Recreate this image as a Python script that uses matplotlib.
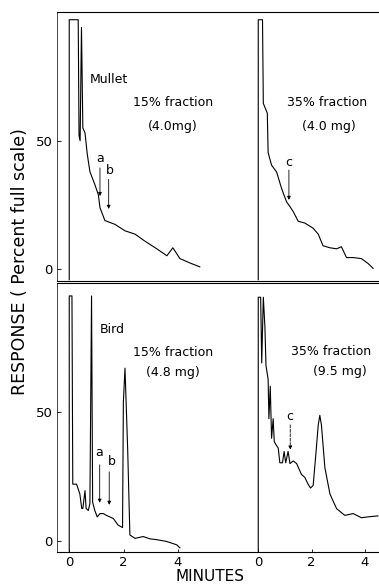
import matplotlib
matplotlib.use("Agg")
import matplotlib.pyplot as plt
import numpy as np

# retention time (min) and response (% full scale)
mullet15_t = [0, 0, 0.33, 0.36, 0.40, 0.45, 0.50, 0.58, 0.66, 0.76, 0.94, 1.07, 1.13,
              1.31, 1.68, 2.05, 2.42, 2.78, 3.22, 3.59, 3.81, 4.07, 4.44, 4.80]
mullet15_r = [-4, 97, 97, 52, 50, 94, 55, 53, 45, 38, 33, 29, 24,
              19, 17.5, 15, 13.7, 11, 8, 5.3, 8.4, 4.2, 2.5, 1]

mullet35_t = [0, 0, 0.16, 0.19, 0.34, 0.37, 0.50, 0.69, 0.88, 1.06, 1.19, 1.31, 1.50,
              1.75, 2.06, 2.25, 2.43, 2.69, 2.94, 3.12, 3.31, 3.56, 3.87, 4.12, 4.31]
mullet35_r = [-4, 97, 97, 64.5, 60.7, 45.4, 40.5, 37.8, 31.3, 26.3, 24.4, 22.5, 18.7,
              18, 16, 13.7, 9.2, 8.4, 8, 8.8, 4.6, 4.6, 4.2, 2.3, 0.4]

bird15_t = [0, 0, 0.10, 0.13, 0.27, 0.39, 0.46, 0.50, 0.58, 0.62, 0.70, 0.76, 0.82, 0.86,
            0.94, 1.03, 1.13, 1.25, 1.37, 1.62, 1.80, 1.96, 1.99, 2.05, 2.15, 2.23, 2.42,
            2.72, 2.97, 3.21, 3.58, 3.95, 4.07]
bird15_r = [-4, 95, 95, 22, 22, 18.2, 12.6, 12.6, 19.5, 12.6, 11.8, 14.5, 95, 15,
            11.8, 9.3, 10.6, 10.6, 9.9, 8.7, 6.1, 5.2, 53.8, 67, 35, 2.3, 1.0,
            1.7, 0.8, 0.5, -0.2, -1.5, -2.7]

bird35_t = [0, 0, 0.09, 0.13, 0.19, 0.25, 0.29, 0.37, 0.40, 0.45, 0.50, 0.56, 0.60, 0.66,
            0.75, 0.81, 0.91, 0.97, 1.03, 1.12, 1.19, 1.31, 1.44, 1.62, 1.75, 1.87, 1.96,
            2.06, 2.16, 2.25, 2.31, 2.37, 2.50, 2.69, 2.94, 3.25, 3.56, 3.87, 4.18, 4.49]
bird35_r = [-4, 94.5, 94.5, 69, 94.5, 83, 68, 62.7, 47.4, 60, 39.8, 47.4, 38.5, 37.4,
            36, 30.3, 30.3, 34.7, 30.3, 34.7, 30, 31, 30, 25.8, 24.6, 22, 20.5,
            21.5, 33.5, 44.9, 48.7, 45, 28.4, 18.2, 12.5, 9.9, 10.6, 9, 9.4, 9.7]

minute_ticks = [0, 2, 4]
response_ticks = [0, 50]

# right-hand chromatogram of each row shares the same axes, shifted along x
SHIFT = 6.95
SCALE = 0.98


def right(t):
    return SHIFT + SCALE * np.asarray(t)


def setup(ax, ybottom, show_x):
    ax.set_xlim(-0.45, 11.39)
    ax.set_ylim(ybottom, 100)
    ax.spines["right"].set_visible(False)
    for s in ["top", "bottom", "left"]:
        ax.spines[s].set_linewidth(0.8)
    ax.spines["left"].set_linewidth(0.5)
    ax.set_yticks(response_ticks)
    ax.set_yticklabels([str(v) for v in response_ticks])
    ax.tick_params(axis="y", direction="in", length=3, width=0.6, pad=3, labelsize=9.5)
    xt = list(minute_ticks) + list(right(minute_ticks))
    ax.set_xticks(xt)
    if show_x:
        ax.set_xticklabels([str(v) for v in minute_ticks] * 2)
        ax.tick_params(axis="x", direction="in", length=2, width=0.6, pad=3, labelsize=9.5)
    else:
        ax.set_xticklabels([])
        ax.tick_params(axis="x", length=0)


def arrow(ax, x, y0, y1, ls="-"):
    ax.annotate("", xy=(x, y1), xytext=(x, y0),
                arrowprops=dict(arrowstyle="-|>", lw=0.6, color="black",
                                mutation_scale=5, linestyle=ls, shrinkA=0, shrinkB=0))


fig = plt.figure(figsize=(3.79, 5.86), dpi=100)
ax1 = fig.add_axes([0.1504, 0.5205, 0.8496, 0.4590])
ax2 = fig.add_axes([0.1504, 0.0580, 0.8496, 0.4590])

setup(ax1, -4.5, False)
setup(ax2, -4.3, True)

# Mullet
ax1.plot(mullet15_t, mullet15_r, color="black", lw=0.8)
ax1.plot(right(mullet35_t), mullet35_r, color="black", lw=0.8)
ax1.text(0.76, 73.6, "Mullet", fontsize=9, ha="left", va="center")
ax1.text(3.82, 65, "15% fraction", fontsize=9, ha="center", va="center")
ax1.text(3.82, 55.7, "(4.0mg)", fontsize=9, ha="center", va="center")
ax1.text(right(2.57), 65, "35% fraction", fontsize=9, ha="center", va="center")
ax1.text(right(2.65), 55.7, "(4.0 mg)", fontsize=9, ha="center", va="center")
ax1.text(1.13, 43.2, "a", fontsize=9, ha="center", va="center")
arrow(ax1, 1.13, 39.4, 28.5)
ax1.text(1.50, 38.6, "b", fontsize=9, ha="center", va="center")
arrow(ax1, 1.45, 35, 23.5)
ax1.text(right(1.15), 41.7, "c", fontsize=9, ha="center", va="center")
arrow(ax1, right(1.15), 38.6, 27)

# Bird
ax2.plot(bird15_t, bird15_r, color="black", lw=0.8)
ax2.plot(right(bird35_t), bird35_r, color="black", lw=0.8)
ax2.text(1.13, 82, "Bird", fontsize=9, ha="left", va="center")
ax2.text(3.8, 73, "15% fraction", fontsize=9, ha="center", va="center")
ax2.text(3.8, 65.3, "(4.8 mg)", fontsize=9, ha="center", va="center")
ax2.text(right(2.72), 73.4, "35% fraction", fontsize=9, ha="center", va="center")
ax2.text(right(3.06), 65.7, "(9.5 mg)", fontsize=9, ha="center", va="center")
ax2.text(1.10, 34.2, "a", fontsize=9, ha="center", va="center")
arrow(ax2, 1.12, 29.5, 14.8)
ax2.text(1.57, 30.7, "b", fontsize=9, ha="center", va="center")
arrow(ax2, 1.47, 26.8, 14)
ax2.text(right(1.19), 48.2, "c", fontsize=9, ha="center", va="center")
arrow(ax2, right(1.2), 45, 35.4, ls="--")

fig.text(0.554, 0.004, "MINUTES", fontsize=11, ha="center", va="bottom")
fig.text(0.053, 0.553, "RESPONSE ( Percent full scale)", fontsize=12.5,
         rotation=90, ha="center", va="center")

fig.savefig("out.png", dpi=100)
